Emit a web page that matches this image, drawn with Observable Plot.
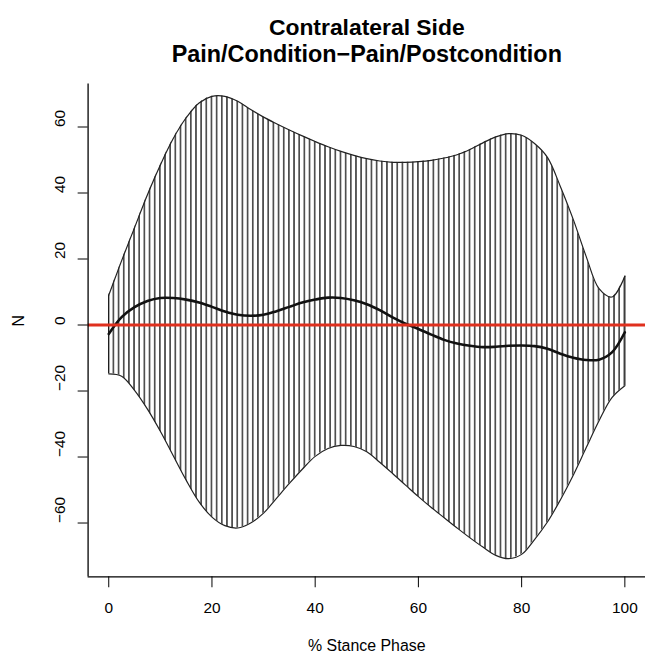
<!DOCTYPE html>
<html>
<head>
<meta charset="utf-8">
<script src="https://cdn.jsdelivr.net/npm/d3@7"></script>
<script src="https://cdn.jsdelivr.net/npm/@observablehq/plot@0.6"></script>
<style>
  html, body { margin: 0; padding: 0; background: #fff; overflow: hidden; }
  #wrap { width: 645px; height: 657px; overflow: hidden; position: relative; }
</style>
</head>
<body>
<div id="wrap"></div>
<script>
const stance = [0,2.5,5,7.5,10,12.5,15,17.5,20,22.5,25,27.5,30,32.5,35,37.5,40,42.5,45,47.5,50,52.5,55,57.5,60,62.5,65,67.5,70,72.5,75,77.5,80,82.5,85,87.5,90,92.5,95,97.5,100];
const upper = [9,19.5,29.5,39.5,48.5,56.5,62.8,67.3,69.3,69.3,67.8,65.3,63.0,61.0,59.1,57.3,55.6,54.0,52.6,51.4,50.4,49.7,49.3,49.3,49.5,49.9,50.6,51.6,53.2,55.2,57,58,57.5,55,50.8,42,32,20.8,11,8.5,14.8];
const lower = [-14.8,-15.5,-19.8,-25.5,-32.2,-39.6,-47,-53.6,-58.2,-60.8,-61.5,-60,-57,-52.5,-48,-43.7,-39.8,-37.4,-36.5,-36.8,-38.4,-41.6,-45,-48.5,-52,-55.3,-58.4,-61.5,-64.5,-67.3,-69.8,-70.8,-69.5,-65,-59.7,-53,-45.5,-37.2,-29,-22,-18.4];
const mean = [-2.7,2.4,5.4,7.3,8.2,8.2,7.7,6.8,5.5,4.1,3.1,2.8,3.1,4.2,5.5,6.8,7.7,8.3,8.2,7.5,6.3,4.5,2.3,0.4,-1.2,-2.9,-4.5,-5.6,-6.3,-6.7,-6.6,-6.3,-6.2,-6.4,-7.2,-8.7,-9.9,-10.6,-10.5,-8.3,-2.2];
const xTicks = [0,20,40,60,80,100];
const yTicks = [-60,-40,-20,0,20,40,60];
const titleLines = ["Contralateral Side", "Pain/Condition\u2212Pain/Postcondition"];
const xLabel = "% Stance Phase";
const yLabel = "N";

const xDomain = [-4, 104];
const yDomain = [-76.3, 73];

const rows = stance.map((s, i) => ({s, up: upper[i], lo: lower[i], m: mean[i]}));
const ends = [rows[0], rows[rows.length - 1]];
const font = "'Liberation Sans', Arial, Helvetica, sans-serif";

const chart = Plot.plot({
  width: 648,
  height: 657,
  marginLeft: 88,
  marginRight: 0,
  marginTop: 84,
  marginBottom: 78,
  style: {fontFamily: font, background: "#fff", color: "#000"},
  x: {domain: xDomain},
  y: {domain: yDomain},
  marks: [
    Plot.areaY(rows, {x: "s", y1: "lo", y2: "up", curve: "catmull-rom", fill: "url(#hatch)"}),
    Plot.ruleX(ends, {x: "s", y1: "lo", y2: "up", stroke: "#111", strokeWidth: 1.2}),
    Plot.line(rows, {x: "s", y: "up", curve: "catmull-rom", stroke: "#222", strokeWidth: 1.2}),
    Plot.line(rows, {x: "s", y: "lo", curve: "catmull-rom", stroke: "#222", strokeWidth: 1.2}),
    Plot.line(rows, {x: "s", y: "m", curve: "catmull-rom", stroke: "#111", strokeWidth: 2.6}),
    Plot.ruleY([0], {stroke: "#e0301e", strokeWidth: 3}),
    Plot.ruleX([xDomain[0]], {stroke: "#000", strokeWidth: 1.3}),
    Plot.ruleY([yDomain[0]], {stroke: "#000", strokeWidth: 1.3}),
    Plot.axisX(xTicks, {tickSize: 11, tickPadding: 14, fontSize: 15.5, label: null, stroke: "#000"}),
    Plot.axisY(yTicks, {tickSize: 10, tickFormat: () => "", label: null, stroke: "#000"}),
    Plot.text(yTicks, {y: d => d, text: d => String(d).replace("-", "\u2212"), frameAnchor: "left", dx: -28, rotate: -90, fontSize: 15.5, fill: "#000"}),
    Plot.text([yLabel], {frameAnchor: "left", dx: -70, dy: -4, rotate: -90, fontSize: 16, fill: "#000"}),
    Plot.text([xLabel], {frameAnchor: "bottom", lineAnchor: "middle", dy: 69, fontSize: 16, fill: "#000"}),
    Plot.text([titleLines[0]], {frameAnchor: "top", lineAnchor: "top", dy: -66, fontSize: 23, fontWeight: "bold", fill: "#000"}),
    Plot.text([titleLines[1]], {frameAnchor: "top", lineAnchor: "top", dy: -39, fontSize: 23.5, fontWeight: "bold", fill: "#000"})
  ]
});

// hatch pattern aligned with integer stance-phase positions
const xs = chart.scale("x");
const step = xs.apply(1) - xs.apply(0);
const x0 = xs.apply(0);
const ns = "http://www.w3.org/2000/svg";
const defs = document.createElementNS(ns, "defs");
const pat = document.createElementNS(ns, "pattern");
pat.setAttribute("id", "hatch");
pat.setAttribute("patternUnits", "userSpaceOnUse");
pat.setAttribute("x", x0 - step / 2);
pat.setAttribute("y", 0);
pat.setAttribute("width", step);
pat.setAttribute("height", 10);
const ln = document.createElementNS(ns, "line");
ln.setAttribute("x1", step / 2);
ln.setAttribute("x2", step / 2);
ln.setAttribute("y1", 0);
ln.setAttribute("y2", 10);
ln.setAttribute("stroke", "#000");
ln.setAttribute("stroke-width", 1.2);
pat.appendChild(ln);
defs.appendChild(pat);
chart.insertBefore(defs, chart.firstChild);

document.getElementById("wrap").appendChild(chart);
</script>
</body>
</html>
